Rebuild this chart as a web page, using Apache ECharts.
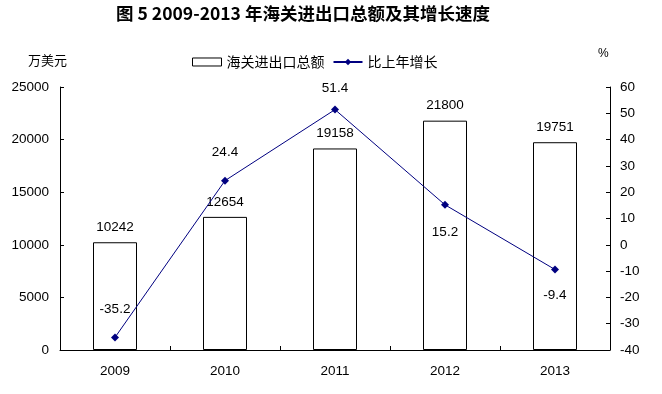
<!DOCTYPE html>
<html><head><meta charset="utf-8">
<script src="https://cdn.jsdelivr.net/npm/echarts@6/dist/echarts.min.js"></script>
<style>html,body{margin:0;padding:0;background:#fff}#c{width:662px;height:394px}</style>
</head><body><div id="c"></div>
<script>
var categories = ['2009', '2010', '2011', '2012', '2013'];
var totalValues = [10242, 12654, 19158, 21800, 19751];
var growthValues = [-35.2, 24.4, 51.4, 15.2, -9.4];
var leftTicks = [0, 25000, 5000];   // min, max, interval
var rightTicks = [-40, 60, 10];

// label placement (style, not data)
var growthLabelPos = ['top', 'top', 'top', 'bottom', 'bottom'];
var growthLabelDist = [17, 17, 10, 16, 15];

var numFont = '"Liberation Sans"';
var cjkFont = '"Noto Sans CJK SC", sans-serif';

var chart = echarts.init(document.getElementById('c'), null, {renderer: 'canvas'});
chart.setOption({
  animation: false,
  backgroundColor: '#fff',
  title: {
    text: '图 5 2009-2013 年海关进出口总额及其增长速度',
    left: 298, top: 0, textAlign: 'center',
    textStyle: {fontFamily: cjkFont, fontWeight: 'bold', fontSize: 17.5, color: '#000'}
  },
  legend: {
    left: 187, top: 50,
    itemWidth: 29, itemHeight: 8, itemGap: 8,
    textStyle: {fontFamily: cjkFont, fontSize: 14, color: '#000', padding: [0, 0, 0, 0]},
    data: [
      {name: '海关进出口总额', icon: 'rect', itemStyle: {color: '#fff', borderColor: '#000', borderWidth: 1}},
      {name: '比上年增长'}
    ]
  },
  graphic: [
    {type: 'text', left: 28, top: 54, style: {text: '万美元', font: '13px "Noto Sans CJK SC"', fill: '#000'}},
    {type: 'text', left: 598, top: 48, style: {text: '%', font: '12px "Liberation Sans"', fill: '#000'}}
  ],
  grid: {left: 60, right: 52, top: 87, bottom: 44},
  xAxis: {
    type: 'category', data: categories,
    axisLine: {lineStyle: {color: '#000', width: 1}},
    axisTick: {show: true, inside: true, length: 4, lineStyle: {color: '#000'}, interval: 0},
    axisLabel: {fontFamily: numFont, fontSize: 13.5, color: '#000', margin: 14}
  },
  yAxis: [
    {
      type: 'value', min: leftTicks[0], max: leftTicks[1], interval: leftTicks[2],
      position: 'left',
      axisLine: {show: true, lineStyle: {color: '#000'}},
      axisTick: {show: true, inside: true, length: 4, lineStyle: {color: '#000'}},
      splitLine: {show: false},
      axisLabel: {fontFamily: numFont, fontSize: 13.5, color: '#000', margin: 11,
        formatter: function (v) { return String(v); }}
    },
    {
      type: 'value', min: rightTicks[0], max: rightTicks[1], interval: rightTicks[2],
      position: 'right',
      axisLine: {show: true, lineStyle: {color: '#000'}},
      axisTick: {show: true, inside: true, length: 4, lineStyle: {color: '#000'}},
      splitLine: {show: false},
      axisLabel: {fontFamily: numFont, fontSize: 13.5, color: '#000', margin: 10,
        formatter: function (v) { return String(v); }}
    }
  ],
  series: [
    {
      name: '海关进出口总额', type: 'bar', yAxisIndex: 0,
      data: totalValues, barWidth: 44,
      itemStyle: {color: '#fff', borderColor: '#000', borderWidth: 1},
      label: {show: true, position: 'top', distance: 8, fontFamily: numFont, fontSize: 13.5, color: '#000'}
    },
    {
      name: '比上年增长', type: 'line', yAxisIndex: 1,
      data: growthValues.map(function (v, i) {
        return {value: v, label: {position: growthLabelPos[i], distance: growthLabelDist[i]}};
      }),
      symbol: 'diamond', symbolSize: 8,
      lineStyle: {color: '#000080', width: 1},
      itemStyle: {color: '#000080'},
      label: {show: true, fontFamily: numFont, fontSize: 13.5, color: '#000'}
    }
  ]
});
</script>
</body></html>
